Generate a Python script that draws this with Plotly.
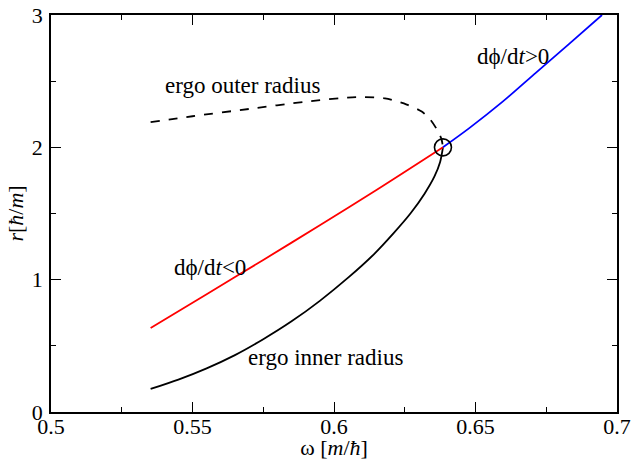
import plotly.graph_objects as go

# ---- data ----
red_x = [0.5352, 0.555, 0.575, 0.595, 0.615, 0.6385]
red_y = [0.635, 0.89, 1.149, 1.411, 1.677, 2.0]

blue_x = [0.6385, 0.6478, 0.6596, 0.6714, 0.683, 0.6947]
blue_y = [2.0, 2.145, 2.345, 2.565, 2.78, 3.0]

inner_x = [0.5352, 0.545, 0.555, 0.565, 0.575, 0.585, 0.595, 0.605, 0.614, 0.621, 0.627, 0.632, 0.6355, 0.6375, 0.6385]
inner_y = [0.174, 0.245, 0.33, 0.43, 0.55, 0.685, 0.84, 1.015, 1.19, 1.35, 1.5, 1.65, 1.78, 1.89, 2.0]

outer_x = [0.5352, 0.55, 0.57, 0.59, 0.608, 0.618, 0.6257, 0.631, 0.634, 0.6365, 0.638, 0.6385]
outer_y = [2.19, 2.235, 2.29, 2.345, 2.38, 2.37, 2.323, 2.27, 2.21, 2.13, 2.06, 2.0]

circle_x = [0.6385]
circle_y = [2.0]

x_ticks = [0.5, 0.55, 0.6, 0.65, 0.7]
x_ticklabels = ["0.5", "0.55", "0.6", "0.65", "0.7"]
y_ticks = [0, 1, 2, 3]
y_ticklabels = ["0", "1", "2", "3"]

labels = [
    ("ergo outer radius", 0.5395, 2.466),
    ("dϕ/d<i>t</i>&lt;0", 0.5426, 1.09),
    ("ergo inner radius", 0.569, 0.41),
    ("dϕ/d<i>t</i>&gt;0", 0.6498, 2.688),
]

FONT = "Liberation Serif, Times New Roman, serif"

fig = go.Figure()
fig.add_trace(go.Scatter(x=outer_x, y=outer_y, mode="lines",
                         line=dict(color="black", width=1.8, dash="dash", shape="spline", smoothing=0.8)))
fig.add_trace(go.Scatter(x=inner_x, y=inner_y, mode="lines",
                         line=dict(color="black", width=1.8, shape="spline", smoothing=0.8)))
fig.add_trace(go.Scatter(x=red_x, y=red_y, mode="lines",
                         line=dict(color="red", width=1.8, shape="spline", smoothing=0.8)))
fig.add_trace(go.Scatter(x=blue_x, y=blue_y, mode="lines",
                         line=dict(color="blue", width=1.8, shape="spline", smoothing=0.8)))
fig.add_trace(go.Scatter(x=circle_x, y=circle_y, mode="markers",
                         marker=dict(symbol="circle-open", size=17, color="black", line=dict(width=1.6))))

for txt, x, y in labels:
    fig.add_annotation(x=x, y=y, text=txt, showarrow=False, xanchor="left", yanchor="middle",
                       font=dict(family=FONT, size=23, color="black"))

axis_common = dict(showgrid=False, zeroline=False, showline=True, linecolor="black", linewidth=1.5,
                   mirror="ticks", ticks="inside", ticklen=10, tickwidth=1.2, tickcolor="black",
                   automargin=False, tickfont=dict(family=FONT, size=22, color="black"))

fig.update_xaxes(range=[0.5, 0.7], tickvals=x_ticks, ticktext=x_ticklabels, ticklabelstandoff=-6,
                 minor=dict(ticks="inside", ticklen=5, dtick=0.025, tickcolor="black", tickwidth=1.2),
                 title=dict(text="ω [<i>m</i>/<i>ħ</i>]", font=dict(family=FONT, size=22, color="black"), standoff=6),
                 **axis_common)
fig.update_yaxes(range=[0, 3], tickvals=y_ticks, ticktext=y_ticklabels, ticklabelstandoff=2,
                 minor=dict(ticks="inside", ticklen=5, dtick=0.5, tickcolor="black", tickwidth=1.2),
                 title=dict(text="<i>r</i>[<i>ħ</i>/<i>m</i>]", font=dict(family=FONT, size=22, color="black"), standoff=2),
                 **axis_common)

fig.update_layout(width=634, height=460, showlegend=False,
                  paper_bgcolor="white", plot_bgcolor="white",
                  margin=dict(l=51, r=17, t=15, b=48, autoexpand=False))

fig.write_html("out.html")
